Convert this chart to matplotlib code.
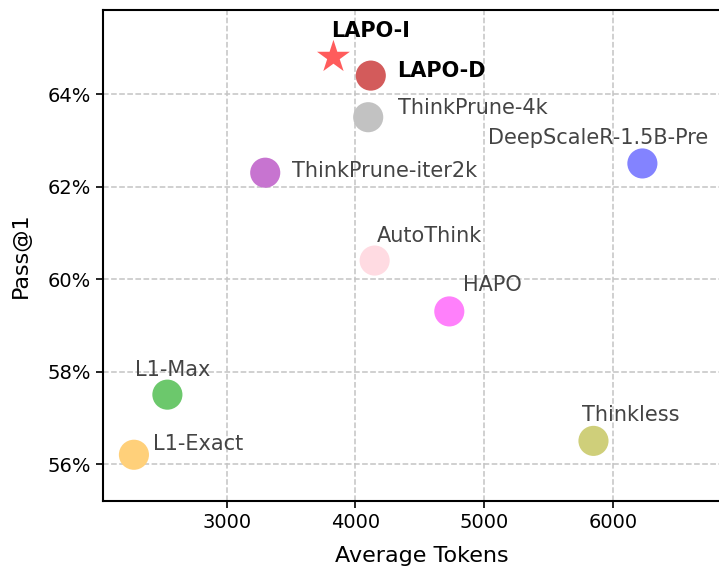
import matplotlib.pyplot as plt
from matplotlib.ticker import FuncFormatter

models = ["LAPO-I", "LAPO-D", "ThinkPrune-4k", "ThinkPrune-iter2k",
          "DeepScaleR-1.5B-Pre", "AutoThink", "HAPO", "L1-Max",
          "L1-Exact", "Thinkless"]
tokens = [3830, 4120, 4100, 3300, 6230, 4150, 4730, 2540, 2280, 5850]
pass1 = [64.8, 64.4, 63.5, 62.3, 62.5, 60.4, 59.3, 57.5, 56.2, 56.5]
colors = ["#ff5c5c", "#d35b5b", "#c2c2c2", "#c774d0", "#8383ff",
          "#ffdbe2", "#ff80fb", "#6cc86c", "#ffd07a", "#cfcf7a"]
# label offsets in pixels from each marker
offsets = [(-2, 26), (26, 5), (30, 9), (27, 2), (-154, 25),
           (2, 25), (14, 26), (-32, 25), (19, 11), (-11, 26)]

fig = plt.figure(figsize=(7.19, 5.71), dpi=100)
ax = fig.add_axes([0.1433, 0.1226, 0.888, 0.86])

for i, name in enumerate(models):
    if name == "LAPO-I":
        ax.scatter(tokens[i], pass1[i], s=620, marker="*", color=colors[i],
                   edgecolors="none", zorder=3)
    else:
        ax.scatter(tokens[i], pass1[i], s=470, color=colors[i],
                   edgecolors="none", zorder=3)
    bold = name.startswith("LAPO")
    ax.annotate(name, (tokens[i], pass1[i]), xytext=offsets[i],
                textcoords="offset pixels", ha="left", va="center",
                fontsize=15, fontweight="bold" if bold else "normal",
                color="black" if bold else "#444444", zorder=4)

ax.set_xlim(2040, 7000)
ax.set_ylim(55.2, 65.82)
ax.set_xticks([3000, 4000, 5000, 6000])
ax.set_yticks([56, 58, 60, 62, 64])
ax.yaxis.set_major_formatter(FuncFormatter(lambda v, p: f"{v:.0f}%"))
ax.tick_params(labelsize=14, length=5, width=1.2)
ax.grid(True, linestyle="--", color="#c4c4c4", linewidth=1.1)
ax.set_axisbelow(True)
for sp in ax.spines.values():
    sp.set_linewidth(1.5)
ax.set_xlabel("Average Tokens", fontsize=16, labelpad=10)
ax.set_ylabel("Pass@1", fontsize=16, labelpad=12)

fig.savefig("out.png", dpi=100)
